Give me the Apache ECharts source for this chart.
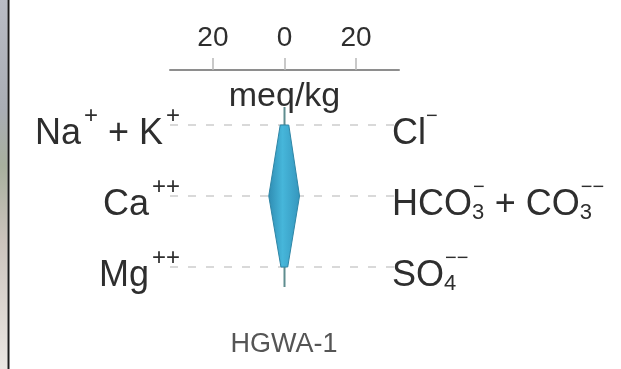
<!DOCTYPE html>
<html>
<head>
<meta charset="utf-8">
<title>Stiff diagram HGWA-1</title>
<script src="https://cdn.jsdelivr.net/npm/echarts@6/dist/echarts.min.js"></script>
<style>
  html, body { margin: 0; padding: 0; background: #ffffff; }
  #chart { width: 621px; height: 369px; }
</style>
</head>
<body>
<div id="chart"></div>
<script>
// Stiff diagram: cations to the left of zero, anions to the right (meq/kg)
const ionRows = ['Na+K', 'Ca', 'Mg'];
const cationValues = [1.2, 4.4, 1.0];   // Na+ + K+, Ca++, Mg++
const anionValues = [1.2, 4.2, 0.9];    // Cl-, HCO3- + CO3--, SO4--
const cationLabels = ['{b|Na}{sp|+}{b| + K}{sp|+}', '{b|Ca}{sp|++}', '{b|Mg}{sp|++}'];
const anionLabels = ['{b|Cl}{sm|\u2212}', '{b|HCO}{sbz|3}{sm|\u2212}{b| + CO}{sbz|3}{sm|\u2212\u2212}', '{b|SO}{sbz|4}{sm|\u2212\u2212}'];
const tickValues = [-20, 0, 20];
const axisRange = [-32, 32];
const zeroLineSpan = [[0, 0], [0, 1]];
const sampleName = 'HGWA-1';

const FONT = '"Liberation Sans", Arial, Helvetica, sans-serif';
const TEXT = '#2e2e2e';

// superscripts are lifted by bottom padding, subscripts lowered by top padding
const richStyles = {
  b: { fontSize: 36, lineHeight: 36, color: TEXT, fontFamily: FONT },
  sp: { fontSize: 24, lineHeight: 24, color: TEXT, fontFamily: FONT, padding: [0, 0, 36, 3] },
  sm: { fontSize: 20, lineHeight: 20, color: TEXT, fontFamily: FONT, padding: [0, 0, 36, 0] },
  sbz: { fontSize: 22, lineHeight: 22, color: TEXT, fontFamily: FONT, padding: [16, 0, 0, 0], width: 1, align: 'left' }
};

const chart = echarts.init(document.getElementById('chart'), null, { renderer: 'canvas' });

const option = {
  backgroundColor: '#ffffff',
  animation: false,
  textStyle: { fontFamily: FONT },
  grid: [
    { left: 170, right: 222, top: 125, bottom: 102 },
    { left: 170, right: 222, top: 107, bottom: 82 }
  ],
  xAxis: [
    {
      gridIndex: 0,
      type: 'value',
      position: 'top',
      offset: 55,
      min: axisRange[0],
      max: axisRange[1],
      axisLine: { show: true, onZero: false, lineStyle: { color: '#8e8e8e', width: 2 } },
      axisTick: { show: true, customValues: tickValues, length: 12, lineStyle: { color: '#b8b8b8', width: 1.5 } },
      axisLabel: {
        customValues: tickValues,
        formatter: v => String(Math.abs(v)),
        fontSize: 28,
        color: TEXT,
        margin: 18
      },
      splitLine: { show: false },
      name: 'meq/kg',
      nameLocation: 'middle',
      nameGap: -27,
      nameTextStyle: { fontSize: 34, color: TEXT, verticalAlign: 'middle' }
    },
    { gridIndex: 1, type: 'value', min: axisRange[0], max: axisRange[1], show: false }
  ],
  yAxis: [
    {
      gridIndex: 0,
      type: 'category',
      data: ionRows,
      boundaryGap: false,
      inverse: true,
      position: 'left',
      axisLine: { show: false },
      axisTick: { show: false },
      axisLabel: {
        margin: -10,
        padding: [18, 0, 0, 0],
        formatter: (v, i) => cationLabels[i],
        rich: richStyles
      },
      splitLine: { show: true, lineStyle: { color: '#d9d9d9', width: 2, type: [8, 10] } }
    },
    {
      gridIndex: 0,
      type: 'category',
      data: ionRows,
      boundaryGap: false,
      inverse: true,
      position: 'right',
      axisLine: { show: false },
      axisTick: { show: false },
      axisLabel: {
        margin: -7,
        padding: [18, 0, 0, 0],
        formatter: (v, i) => anionLabels[i],
        rich: richStyles
      },
      splitLine: { show: false }
    },
    { gridIndex: 1, type: 'value', min: 0, max: 1, inverse: true, show: false }
  ],
  series: [
    {
      name: 'zero',
      type: 'line',
      xAxisIndex: 1,
      yAxisIndex: 2,
      data: zeroLineSpan,
      symbol: 'none',
      silent: true,
      z: 1,
      lineStyle: { color: '#5f8d8f', width: 2 }
    },
    {
      name: sampleName,
      type: 'custom',
      xAxisIndex: 0,
      yAxisIndex: 0,
      z: 3,
      silent: true,
      data: [[0, 0]],
      renderItem: function (params, api) {
        const pts = [];
        for (let i = 0; i < ionRows.length; i++) {
          pts.push(api.coord([-cationValues[i], i]));
        }
        for (let i = ionRows.length - 1; i >= 0; i--) {
          pts.push(api.coord([anionValues[i], i]));
        }
        return {
          type: 'polygon',
          shape: { points: pts },
          style: {
            fill: new echarts.graphic.LinearGradient(0, 0, 1, 0, [
              { offset: 0, color: '#2f8cb2' },
              { offset: 0.45, color: '#46b6da' },
              { offset: 1, color: '#3596bd' }
            ]),
            stroke: '#2f86a6',
            lineWidth: 1
          }
        };
      }
    }
  ],
  graphic: [
    {
      type: 'rect',
      shape: { x: 0, y: 0, width: 7.5, height: 369 },
      style: {
        fill: new echarts.graphic.LinearGradient(0, 0, 0, 1, [
          { offset: 0, color: '#b9bcc4' },
          { offset: 0.3, color: '#a9adb4' },
          { offset: 0.45, color: '#a8b09e' },
          { offset: 0.65, color: '#cbc3bc' },
          { offset: 1, color: '#ebe7e3' }
        ])
      },
      silent: true
    },
    {
      type: 'line',
      shape: { x1: 8.5, y1: 0, x2: 8.5, y2: 369 },
      style: { stroke: '#1c1c1c', lineWidth: 2 },
      silent: true
    },
    {
      type: 'text',
      x: 284,
      y: 345,
      style: {
        text: sampleName,
        align: 'center',
        verticalAlign: 'middle',
        fontSize: 27,
        fontFamily: FONT,
        fill: '#555555'
      },
      silent: true
    }
  ]
};

chart.setOption(option);
</script>
</body>
</html>
